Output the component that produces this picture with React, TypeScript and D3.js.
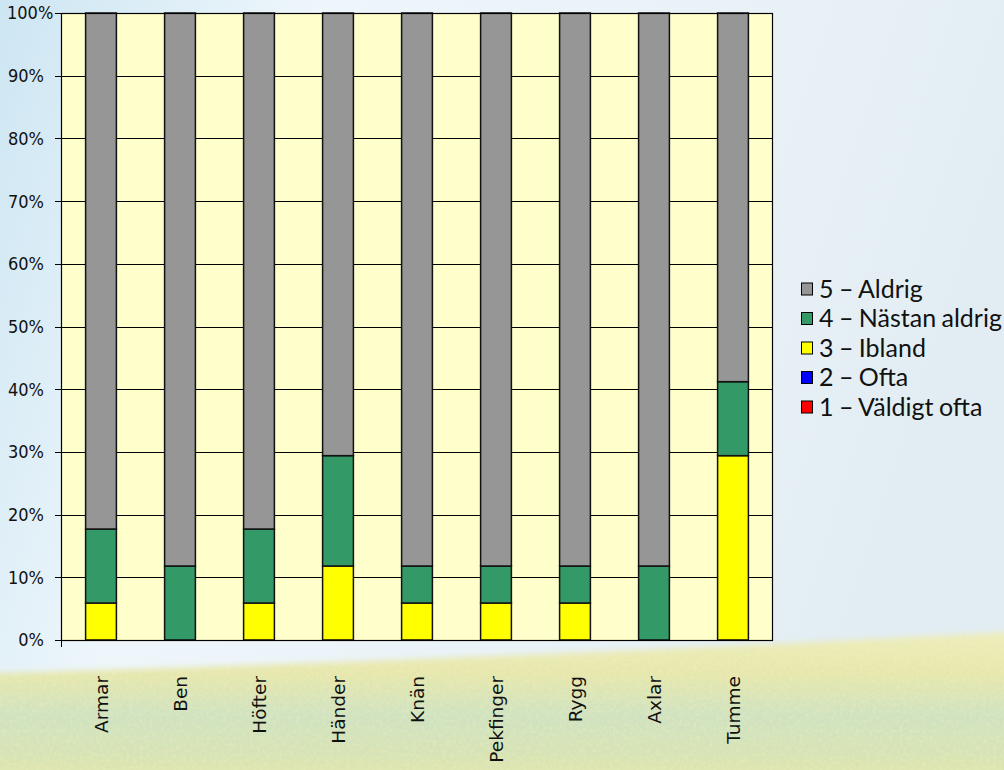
import React, { useRef, useEffect } from "react";
import * as d3 from "d3";

const categories = ["Armar", "Ben", "Höfter", "Händer", "Knän", "Pekfinger", "Rygg", "Axlar", "Tumme"];
const seriesNames = ["1 – Väldigt ofta", "2 – Ofta", "3 – Ibland", "4 – Nästan aldrig", "5 – Aldrig"];
const valdigtOfta = [0, 0, 0, 0, 0, 0, 0, 0, 0];
const ofta = [0, 0, 0, 0, 0, 0, 0, 0, 0];
const ibland = [5.9, 0, 5.9, 11.8, 5.9, 5.9, 5.9, 0, 29.4];
const nastanAldrig = [11.8, 11.8, 11.8, 17.6, 5.9, 5.9, 5.9, 11.8, 11.8];
const aldrig = [82.3, 88.2, 82.3, 70.6, 88.2, 88.2, 88.2, 88.2, 58.8];
const yTicks = [0, 0.1, 0.2, 0.3, 0.4, 0.5, 0.6, 0.7, 0.8, 0.9, 1];
const colors = ["#FF0000", "#0000FF", "#FFFF00", "#339966", "#969696"];

const App: React.FC = () => {
  const ref = useRef<SVGSVGElement | null>(null);

  useEffect(() => {
    if (!ref.current) return;
    const svg = d3.select(ref.current);
    svg.selectAll("*").remove();

    const width = 1004;
    const height = 770;
    const margin = { top: 13, right: 232, bottom: 130, left: 61 };

    // background: sky + field
    const defs = svg.append("defs");
    const sky = defs.append("linearGradient").attr("id", "sky").attr("x1", 0).attr("y1", 0).attr("x2", 1).attr("y2", 0.25);
    sky.append("stop").attr("offset", "0%").attr("stop-color", "#cde6f3");
    sky.append("stop").attr("offset", "30%").attr("stop-color", "#eef6fb");
    sky.append("stop").attr("offset", "75%").attr("stop-color", "#e8f1f6");
    sky.append("stop").attr("offset", "100%").attr("stop-color", "#e2edf3");
    const field = defs.append("linearGradient").attr("id", "field").attr("x1", 0).attr("y1", 0).attr("x2", 0).attr("y2", 1);
    field.append("stop").attr("offset", "0%").attr("stop-color", "#eeedbc");
    field.append("stop").attr("offset", "25%").attr("stop-color", "#e6e7ad");
    field.append("stop").attr("offset", "50%").attr("stop-color", "#cfe2c2");
    field.append("stop").attr("offset", "72%").attr("stop-color", "#d6e3b6");
    field.append("stop").attr("offset", "100%").attr("stop-color", "#e9e8a8");
    const noise = defs.append("filter").attr("id", "speckle");
    noise.append("feTurbulence").attr("type", "fractalNoise").attr("baseFrequency", 0.3).attr("numOctaves", 2).attr("result", "n");
    noise.append("feColorMatrix").attr("in", "n").attr("type", "matrix")
      .attr("values", "0 0 0 0 0.93  0 0 0 0 0.9  0 0 0 0 0.5  0 0 0 1.4 -0.6");
    noise.append("feComposite").attr("in2", "SourceGraphic").attr("operator", "in");
    const soft = defs.append("filter").attr("id", "soft").attr("y", "-10%").attr("height", "120%");
    soft.append("feGaussianBlur").attr("stdDeviation", 3);

    svg.append("rect").attr("width", width).attr("height", height).attr("fill", "url(#sky)");
    const hill = "M-30,674 Q480,660 1034,631 L1034,800 L-30,800 Z";
    svg.append("path").attr("d", hill).attr("fill", "url(#field)").attr("filter", "url(#soft)");
    svg.append("path").attr("d", hill).attr("fill", "#fff").attr("filter", "url(#speckle)").attr("opacity", 0.55);

    const x = d3
      .scaleBand()
      .domain(categories)
      .range([margin.left, width - margin.right])
      .paddingInner(0.61)
      .paddingOuter(0.305);

    const y = d3
      .scaleLinear()
      .domain([0, 1])
      .range([height - margin.bottom, margin.top]);

    // plot area
    svg
      .append("rect")
      .attr("x", margin.left)
      .attr("y", margin.top)
      .attr("width", width - margin.right - margin.left)
      .attr("height", height - margin.bottom - margin.top)
      .attr("fill", "#FFFFCC");

    svg
      .append("g")
      .selectAll("line")
      .data(yTicks)
      .enter()
      .append("line")
      .attr("x1", margin.left - 6)
      .attr("x2", width - margin.right)
      .attr("y1", (d) => Math.round(y(d)) + 0.5)
      .attr("y2", (d) => Math.round(y(d)) + 0.5)
      .attr("stroke", "#000")
      .attr("stroke-width", 1);

    const rows = categories.map((c, i) => ({
      category: c,
      [seriesNames[0]]: valdigtOfta[i],
      [seriesNames[1]]: ofta[i],
      [seriesNames[2]]: ibland[i],
      [seriesNames[3]]: nastanAldrig[i],
      [seriesNames[4]]: aldrig[i],
    }));

    const stacked = d3
      .stack<any>()
      .keys(seriesNames)
      .offset(d3.stackOffsetExpand)(rows);

    svg
      .append("g")
      .selectAll("g")
      .data(stacked)
      .enter()
      .append("g")
      .attr("fill", (_, i) => colors[i])
      .selectAll("rect")
      .data((d) => d.filter((p) => p[1] - p[0] > 0))
      .enter()
      .append("rect")
      .attr("x", (d) => (x(d.data.category) || 0) + 0.5)
      .attr("y", (d) => y(d[1]))
      .attr("width", x.bandwidth())
      .attr("height", (d) => y(d[0]) - y(d[1]))
      .attr("stroke", "#111")
      .attr("stroke-width", 1.5);

    // frame
    svg
      .append("rect")
      .attr("x", margin.left + 0.5)
      .attr("y", margin.top + 0.5)
      .attr("width", width - margin.right - margin.left)
      .attr("height", height - margin.bottom - margin.top)
      .attr("fill", "none")
      .attr("stroke", "#000")
      .attr("stroke-width", 1.2);

    svg
      .append("line")
      .attr("x1", margin.left + 0.5)
      .attr("x2", margin.left + 0.5)
      .attr("y1", height - margin.bottom)
      .attr("y2", height - margin.bottom + 7)
      .attr("stroke", "#000");

    // y labels (100% is pushed right like in the original)
    svg
      .append("g")
      .selectAll("text")
      .data(yTicks)
      .enter()
      .append("text")
      .attr("x", (d) => (d === 1 ? 7 : 44))
      .attr("y", (d) => y(d))
      .attr("dy", "0.36em")
      .attr("text-anchor", (d) => (d === 1 ? "start" : "end"))
      .attr("font-family", "DejaVu Sans Condensed, DejaVu Sans")
      .attr("font-stretch", "condensed")
      .attr("font-size", 18)
      .attr("fill", "#111")
      .text((d) => d3.format(".0%")(d));

    // x labels
    svg
      .append("g")
      .selectAll("text")
      .data(categories)
      .enter()
      .append("text")
      .attr("transform", (d) => `translate(${(x(d) || 0) + x.bandwidth() / 2 + 1},676) rotate(-90)`)
      .attr("dy", "0.36em")
      .attr("text-anchor", "end")
      .attr("font-family", "DejaVu Sans")
      .attr("font-size", 18.5)
      .attr("fill", "#111")
      .text((d) => d);

    // legend
    const legendItems = seriesNames.map((n, i) => ({ name: n, color: colors[i] })).reverse();
    const legend = svg
      .append("g")
      .selectAll("g")
      .data(legendItems)
      .enter()
      .append("g")
      .attr("transform", (_, i) => `translate(801,${289 + i * 29.5})`);
    legend
      .append("rect")
      .attr("x", 0.5)
      .attr("y", -6)
      .attr("width", 11)
      .attr("height", 12)
      .attr("fill", (d) => d.color)
      .attr("stroke", "#000")
      .attr("stroke-width", 1);
    legend
      .append("text")
      .attr("x", 18)
      .attr("dy", "0.35em")
      .attr("font-family", "Lato")
      .attr("font-size", 25)
      .attr("word-spacing", -1)
      .attr("fill", "#111")
      .text((d) => d.name);
  }, []);

  return <svg ref={ref} width={1004} height={770} style={{ position: "absolute", left: 0, top: 0 }} />;
};

export default App;
